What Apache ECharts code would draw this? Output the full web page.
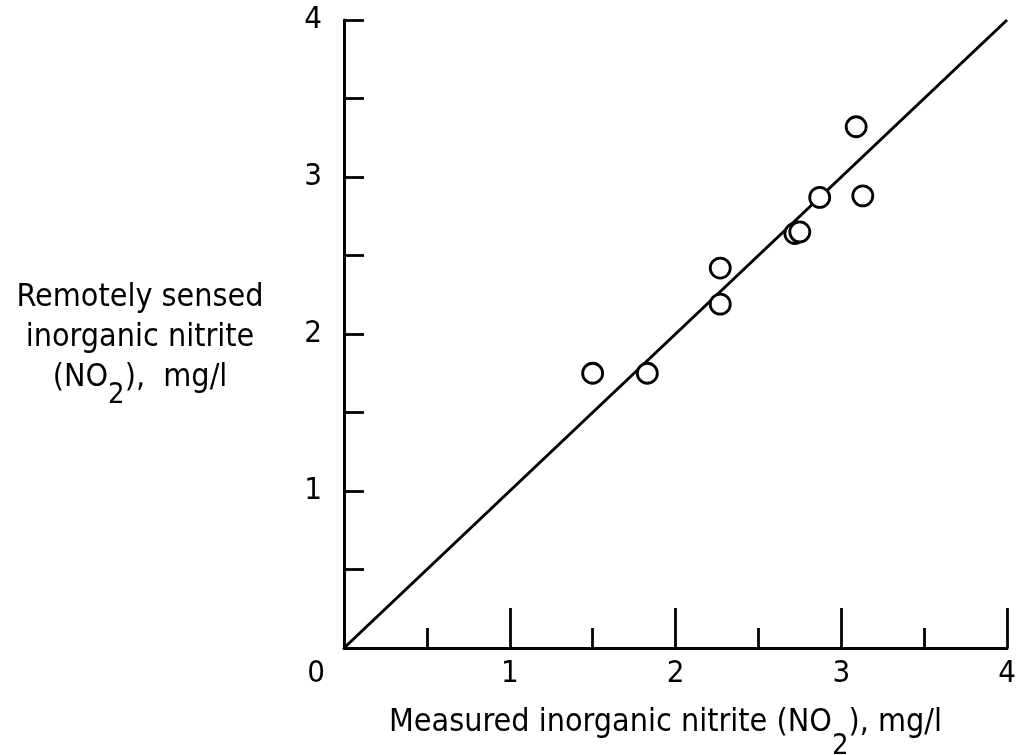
<!DOCTYPE html>
<html>
<head>
<meta charset="utf-8">
<script src="https://cdn.jsdelivr.net/npm/echarts@6/dist/echarts.min.js"></script>
<style>
  html, body { margin: 0; padding: 0; background: #fff; }
  #chart { width: 1018px; height: 755px; }
</style>
</head>
<body>
<div id="chart"></div>
<script>
// measured vs remotely sensed nitrite, mg/l
const measured = [1.50, 1.83, 2.27, 2.27, 2.72, 2.75, 2.87, 3.13, 3.09]
const sensed = [1.75, 1.75, 2.42, 2.19, 2.64, 2.65, 2.87, 2.88, 3.32]
// 1:1 line
const lineX = [0, 4]
const lineY = [0, 4]
const axisMin = 0
const axisMax = 4
const axisStep = 1

const font = '"DejaVu Sans Condensed", "DejaVu Sans", sans-serif'
const ink = '#000'

const chart = echarts.init(document.getElementById('chart'))

const tickLabel = {
  fontFamily: font,
  fontSize: 31,
  color: ink,
  // origin "0" drawn once, below
  formatter: (v) => (v === 0 ? '' : String(v))
}

const titleRich = {
  t: { fontFamily: font, fontSize: 32, color: ink, lineHeight: 40 },
  s: { fontFamily: font, fontSize: 29, color: ink, lineHeight: 40, padding: [34, 0, 0, 0] },
  sx: { fontFamily: font, fontSize: 29, color: ink, lineHeight: 40, padding: [46, 0, 0, 0] }
}

const option = {
  backgroundColor: '#fff',
  animation: false,
  grid: {
    left: 344,
    right: 11,
    top: 20,
    bottom: 107,
    outerBoundsMode: 'none'
  },
  xAxis: {
    type: 'value',
    min: axisMin,
    max: axisMax,
    interval: axisStep,
    splitLine: { show: false },
    axisLine: { onZero: false, lineStyle: { color: ink, width: 3 } },
    axisTick: { inside: true, length: 40, lineStyle: { color: ink, width: 2.8 } },
    minorTick: { show: true, splitNumber: 2, length: 20, lineStyle: { color: ink, width: 2.8 } },
    axisLabel: { ...tickLabel, margin: 10 },
    name: '{t|Measured inorganic nitrite (NO}{sx|2}{t|), mg/l}',
    nameLocation: 'middle',
    nameGap: 55,
    nameMoveOverlap: false,
    nameTextStyle: { rich: titleRich, padding: [0, 20, 0, 0] }
  },
  yAxis: {
    type: 'value',
    min: axisMin,
    max: axisMax,
    interval: axisStep,
    splitLine: { show: false },
    axisLine: { onZero: false, lineStyle: { color: ink, width: 3 } },
    axisTick: { inside: true, length: 20, lineStyle: { color: ink, width: 2.8 } },
    minorTick: { show: true, splitNumber: 2, length: 20, lineStyle: { color: ink, width: 2.8 } },
    axisLabel: { ...tickLabel, margin: 22 },
    name: '{t|Remotely sensed}\n{t|inorganic nitrite}\n{t|(NO}{s|2}{t|),  mg/l}',
    nameLocation: 'middle',
    nameRotate: 0,
    nameGap: 204,
    nameMoveOverlap: false,
    nameTextStyle: { rich: titleRich, align: 'center', verticalAlign: 'middle', padding: [8, 0, 0, 0] }
  },
  series: [
    {
      type: 'line',
      data: lineX.map((x, i) => [x, lineY[i]]),
      symbol: 'none',
      lineStyle: { color: ink, width: 3 },
      z: 1
    },
    {
      type: 'scatter',
      data: measured.map((x, i) => [x, sensed[i]]),
      symbol: 'circle',
      symbolSize: 20,
      itemStyle: { color: '#fff', borderColor: ink, borderWidth: 2.8, opacity: 1 },
      z: 3
    }
  ]
}

chart.setOption(option)

// shared origin label sits left of the corner, in line with the x labels
const origin = chart.convertToPixel({ gridIndex: 0 }, [0, 0])
chart.setOption({
  graphic: [{
    type: 'text',
    x: origin[0] - 28,
    y: origin[1] + 10,
    style: { text: '0', font: '31px ' + font, fill: ink, align: 'center', verticalAlign: 'top' }
  }]
})
</script>
</body>
</html>
